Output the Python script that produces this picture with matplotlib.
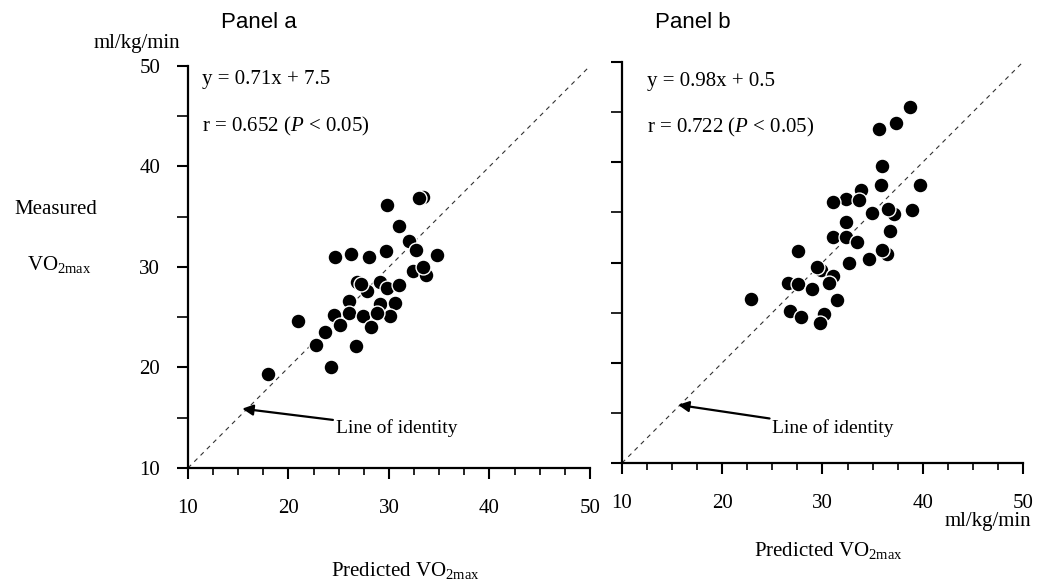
import numpy as np
import matplotlib.pyplot as plt
from matplotlib.ticker import MultipleLocator

plt.rcParams['font.family'] = ['Liberation Serif', 'DejaVu Serif']
plt.rcParams['mathtext.fontset'] = 'custom'
plt.rcParams['mathtext.rm'] = 'Liberation Serif'
plt.rcParams['mathtext.it'] = 'Liberation Serif:italic'

# panel a: predicted vs measured VO2max (ml/kg/min)
pa_x = [29.8, 33.4, 33.0, 31.0, 32.0, 32.7, 34.8, 24.6, 26.2, 28.0, 29.7, 32.4,
        33.7, 33.4, 26.8, 29.1, 27.8, 29.8, 31.0, 26.0, 29.1, 30.6, 24.5, 26.0,
        27.4, 30.1, 25.1, 28.2, 23.6, 22.7, 26.7, 20.9, 24.2, 18.0, 27.2, 28.8]
pa_y = [36.2, 37.0, 36.9, 34.1, 32.6, 31.7, 31.2, 31.0, 31.3, 31.0, 31.6, 29.6,
        29.2, 30.0, 28.5, 28.5, 27.6, 27.9, 28.2, 26.6, 26.3, 26.4, 25.2, 25.4,
        25.1, 25.1, 24.2, 24.0, 23.5, 22.2, 22.1, 24.6, 20.0, 19.4, 28.3, 25.4]

# panel b
pb_x = [38.7, 37.3, 35.6, 35.9, 35.8, 39.7, 33.8, 32.3, 31.1, 33.6, 37.1, 36.5,
        38.9, 34.9, 32.3, 36.7, 31.1, 32.3, 33.4, 27.6, 36.4, 35.9, 34.6, 32.6,
        29.9, 29.5, 31.1, 30.7, 26.6, 27.6, 29.0, 31.5, 22.9, 26.8, 27.9, 30.2, 29.8]
pb_y = [45.5, 43.9, 43.3, 39.6, 37.7, 37.7, 37.2, 36.3, 36.0, 36.2, 34.8, 35.3,
        35.2, 34.9, 34.0, 33.1, 32.5, 32.5, 32.0, 31.1, 30.9, 31.2, 30.4, 30.0,
        29.3, 29.6, 28.7, 28.0, 28.0, 27.9, 27.4, 26.3, 26.4, 25.2, 24.6, 24.9, 24.0]

eq_a = ["y = 0.71x + 7.5", r"r = 0.652 ($P$ < 0.05)"]
eq_b = ["y = 0.98x + 0.5", r"r = 0.722 ($P$ < 0.05)"]
ticks = [10, 20, 30, 40, 50]

fig = plt.figure(figsize=(10.42, 5.83), dpi=100)
ax_a = fig.add_axes([0.1804, 0.1973, 0.3858, 0.6895])
ax_b = fig.add_axes([0.5969, 0.2058, 0.3848, 0.6878])


def style_panel(ax, show_ylabels):
    ax.set_xlim(10, 50)
    ax.set_ylim(10, 50)
    for s in ['top', 'right']:
        ax.spines[s].set_visible(False)
    for s in ['left', 'bottom']:
        ax.spines[s].set_linewidth(1.6)
    ax.set_xticks(ticks)
    ax.set_yticks(ticks)
    ax.xaxis.set_minor_locator(MultipleLocator(2.5))
    ax.yaxis.set_minor_locator(MultipleLocator(5))
    ax.tick_params(which='major', direction='out', length=8, width=1.5, labelsize=15)
    ax.tick_params(axis='x', which='minor', direction='out', length=5, width=1.2)
    ax.tick_params(axis='y', which='minor', direction='out', length=8, width=1.2)
    ax.tick_params(axis='x', pad=14)
    ax.tick_params(axis='y', pad=12)
    if not show_ylabels:
        ax.set_yticklabels([])
    ax.plot([10, 50], [10, 50], color='#333333', lw=0.8, ls=(0, (4, 4)), zorder=1)


style_panel(ax_a, True)
style_panel(ax_b, False)

ax_a.scatter(pa_x, pa_y, s=115, color='black', edgecolors='white', linewidths=1.0, zorder=3)
ax_b.scatter(pb_x, pb_y, s=115, color='black', edgecolors='white', linewidths=1.0, zorder=3)

ax_a.text(11.4, 48.7, eq_a[0], fontsize=15, va='center')
ax_a.text(11.4, 44.0, eq_a[1], fontsize=15, va='center')
ax_b.text(12.5, 48.1, eq_b[0], fontsize=15, va='center')
ax_b.text(12.5, 43.5, eq_b[1], fontsize=15, va='center')

arrow = dict(arrowstyle='-|>', color='black', lw=1.6, mutation_scale=16, shrinkA=0, shrinkB=0)
ax_a.annotate("Line of identity", xy=(15.4, 15.9), xytext=(24.7, 14.0),
              fontsize=14, va='center', ha='left', arrowprops=arrow)
ax_b.annotate("Line of identity", xy=(15.6, 15.8), xytext=(25.0, 13.5),
              fontsize=14, va='center', ha='left', arrowprops=arrow)

fig.text(0.2486, 0.962, "Panel a", fontsize=16, family=['Liberation Sans'], ha='center', va='center')
fig.text(0.665, 0.962, "Panel b", fontsize=16, family=['Liberation Sans'], ha='center', va='center')
fig.text(0.1315, 0.926, "ml/kg/min", fontsize=15, ha='center', va='center')
fig.text(0.0537, 0.640, "Measured", fontsize=15, ha='center', va='center')
fig.text(0.0566, 0.5455, r"VO$_{\mathrm{2max}}$", fontsize=15, ha='center', va='center')
fig.text(0.389, 0.022, r"Predicted VO$_{\mathrm{2max}}$", fontsize=15, ha='center', va='center')
fig.text(0.795, 0.055, r"Predicted VO$_{\mathrm{2max}}$", fontsize=15, ha='center', va='center')
fig.text(0.99, 0.105, "ml/kg/min", fontsize=15, ha='right', va='center')

fig.savefig('out.png', dpi=100)
